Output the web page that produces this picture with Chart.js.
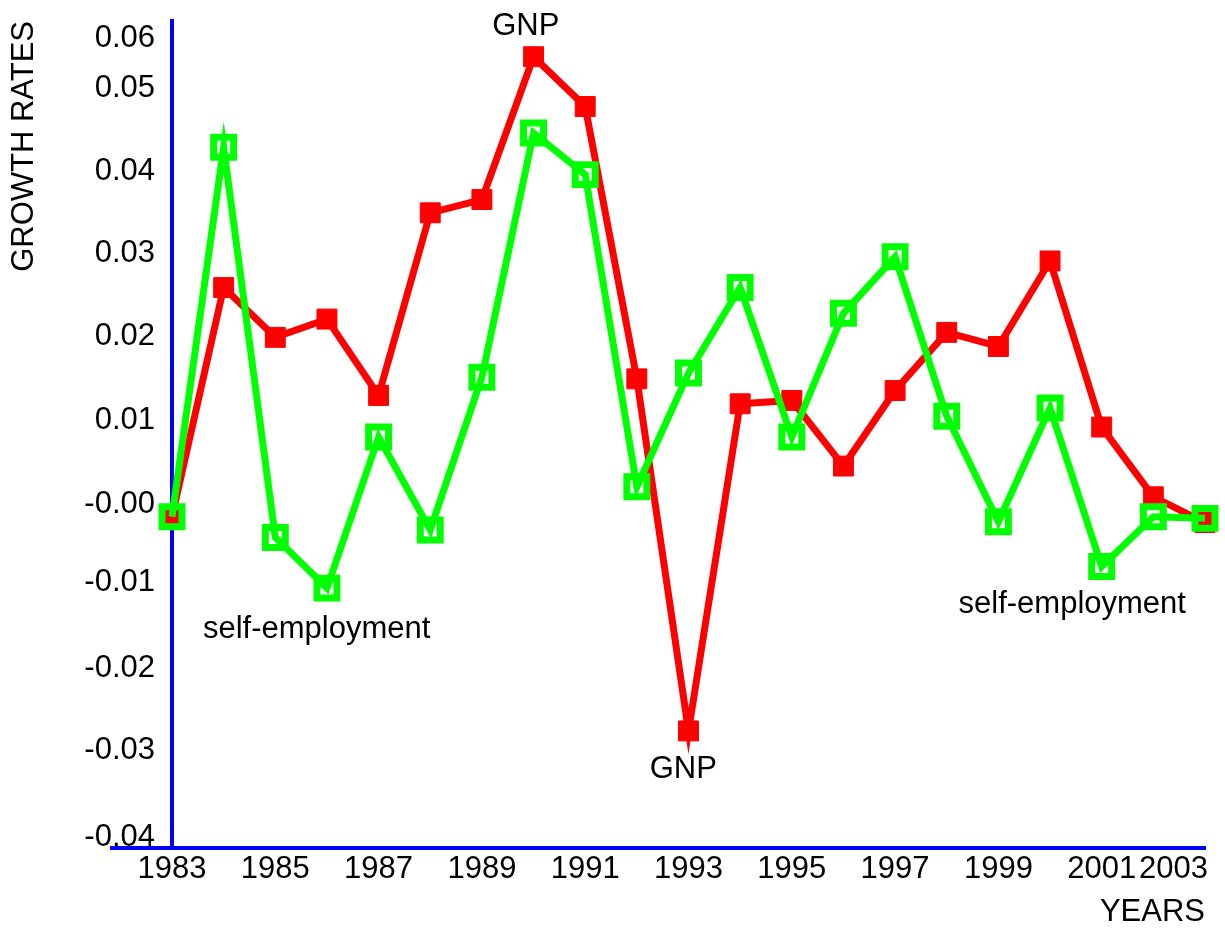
<!DOCTYPE html>
<html>
<head>
<meta charset="utf-8">
<title>GNP vs self-employment growth rates</title>
<script src="https://cdn.jsdelivr.net/npm/chart.js@4.4.1/dist/chart.umd.min.js"></script>
<style>
  html, body { margin: 0; padding: 0; background: #fff; }
  #wrap { position: relative; width: 1225px; height: 931px; }
</style>
</head>
<body>
<div id="wrap"><canvas id="growth"></canvas></div>
<script>
// ── Data ──
const YEARS = ["1983","1984","1985","1986","1987","1988","1989","1990","1991","1992","1993",
               "1994","1995","1996","1997","1998","1999","2000","2001","2002","2003"];

const GNP = [-0.0020, 0.0256, 0.0196, 0.0218, 0.0126, 0.0346, 0.0362, 0.0534, 0.0474, 0.0146, -0.0278,
             0.0116, 0.0120, 0.0041, 0.0132, 0.0202, 0.0185, 0.0288, 0.0088, 0.0004, -0.0027];

const SELF_EMP = [-0.0020, 0.0425, -0.0045, -0.0106, 0.0076, -0.0036, 0.0148, 0.0442, 0.0392, 0.0016, 0.0153,
                  0.0256, 0.0076, 0.0225, 0.0293, 0.0101, -0.0026, 0.0111, -0.0080, -0.0020, -0.0022];

// tick values as they sit on the original axis (labels are the 2-decimal rounding)
const Y_TICKS = [0.0560, 0.0499, 0.0400, 0.0301, 0.0201, 0.0099, -0.0002, -0.0096, -0.0199, -0.0298, -0.0403];
const Y_MIN = -0.0419;
const Y_MAX = 0.0577;

// in-plot labels: [text, category index, y value]
const NOTES = [
  ["GNP", 6.85, 0.0570],
  ["GNP", 9.9, -0.0325],
  ["self-employment", 2.8, -0.0156],
  ["self-employment", 17.43, -0.0126]
];

const FONT = { family: "'Liberation Sans', Arial, sans-serif", size: 31 };
const BLUE = "#0000ff";

// ── Extra drawing: x tick labels (last one pulled in), axis stub, notes ──
const extras = {
  id: "extras",
  afterDraw(chart) {
    const ctx = chart.ctx;
    const xs = chart.scales.x;
    const ys = chart.scales.y;
    const area = chart.chartArea;

    ctx.save();
    // x axis runs a bit left of the y axis
    ctx.strokeStyle = BLUE;
    ctx.lineWidth = 4;
    ctx.beginPath();
    ctx.moveTo(110, area.bottom);
    ctx.lineTo(area.left, area.bottom);
    ctx.stroke();

    ctx.font = `${FONT.size}px ${FONT.family}`;
    ctx.fillStyle = "#000";
    ctx.textBaseline = "middle";
    ctx.textAlign = "center";

    YEARS.forEach((lab, i) => {
      if (i % 2) return;
      let x = xs.getPixelForValue(i);
      const w = ctx.measureText(lab).width;
      if (x + w / 2 > area.right + 3) x = area.right + 3 - w / 2;
      ctx.fillText(lab, x, area.bottom + 21);
    });

    NOTES.forEach(([txt, xi, yv]) => {
      ctx.fillText(txt, xs.getPixelForValue(xi), ys.getPixelForValue(yv));
    });
    ctx.restore();
  }
};

new Chart(document.getElementById("growth"), {
  type: "line",
  data: {
    labels: YEARS,
    datasets: [
      {
        label: "self-employment",
        data: SELF_EMP,
        borderColor: "#00ff00",
        borderWidth: 7,
        pointStyle: "rect",
        pointRadius: 14.1,
        pointBorderWidth: 7,
        pointBorderColor: "#00ff00",
        pointBackgroundColor: "rgba(0,0,0,0)",
        tension: 0,
        clip: false
      },
      {
        label: "GNP",
        data: GNP,
        borderColor: "#ff0000",
        borderWidth: 7,
        pointStyle: "rect",
        pointRadius: 14.1,
        pointBorderWidth: 1,
        pointBorderColor: "#ff0000",
        pointBackgroundColor: "#ff0000",
        tension: 0,
        clip: false
      }
    ]
  },
  options: {
    responsive: true,
    maintainAspectRatio: false,
    animation: false,
    layout: { autoPadding: false, padding: { top: 21, right: 20, left: 0, bottom: 0 } },
    plugins: {
      legend: { display: false },
      tooltip: { enabled: false }
    },
    scales: {
      x: {
        type: "category",
        offset: false,
        grid: { display: false, drawTicks: false },
        border: { display: true, color: BLUE, width: 4 },
        ticks: { display: false },
        title: {
          display: true, text: "YEARS", align: "end",
          color: "#000", font: FONT, padding: { top: 0, bottom: 0 }
        },
        afterFit(scale) {
          scale.height = 83;
          scale.paddingLeft = 0;
          scale.paddingRight = 0;
        }
      },
      y: {
        type: "linear",
        min: Y_MIN,
        max: Y_MAX,
        grid: { display: false, drawTicks: false },
        border: { display: true, color: BLUE, width: 4 },
        afterBuildTicks(scale) { scale.ticks = Y_TICKS.map(v => ({ value: v })); },
        ticks: {
          color: "#000",
          font: FONT,
          padding: 17,
          labelOffset: 3,
          autoSkip: false,
          callback: v => v.toFixed(2)
        },
        title: {
          display: true, text: "GROWTH RATES", align: "end",
          color: "#000", font: FONT, padding: { top: 6, bottom: 0 }
        },
        afterFit(scale) {
          scale.width = 172;
          scale.paddingTop = 0;
          scale.paddingBottom = 0;
        }
      }
    }
  },
  plugins: [extras]
});
</script>
</body>
</html>
